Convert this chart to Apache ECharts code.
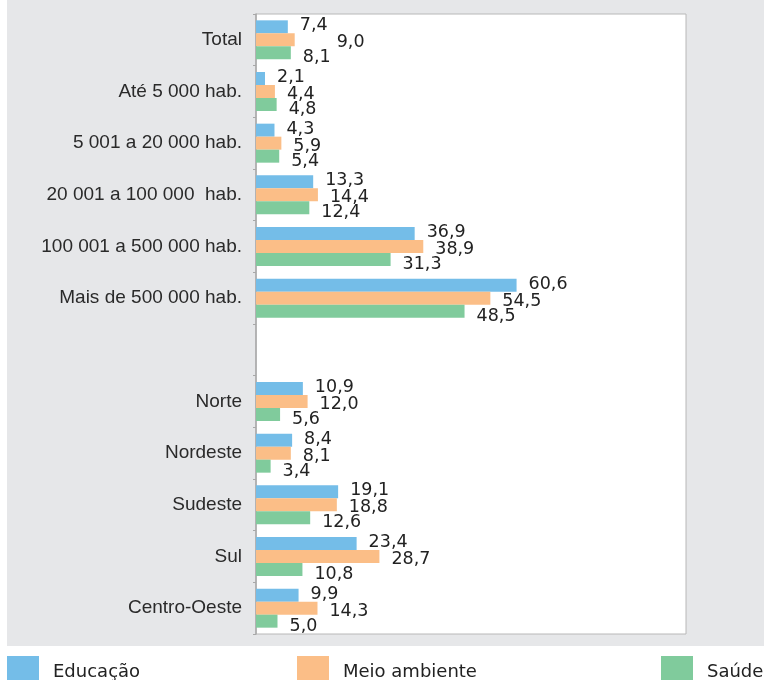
<!DOCTYPE html>
<html>
<head>
<meta charset="utf-8">
<script src="https://cdn.jsdelivr.net/npm/echarts@6/dist/echarts.min.js"></script>
<style>
html,body{margin:0;padding:0;background:#fff;}
#chart{width:764px;height:680px;}
</style>
</head>
<body>
<div id="chart"></div>
<script>
const categories = ['Total','Até 5 000 hab.','5 001 a 20 000 hab.','20 001 a 100 000  hab.','100 001 a 500 000 hab.','Mais de 500 000 hab.','','Norte','Nordeste','Sudeste','Sul','Centro-Oeste'];
const educacao = [7.4, 2.1, 4.3, 13.3, 36.9, 60.6, null, 10.9, 8.4, 19.1, 23.4, 9.9];
const meioAmbiente = [9.0, 4.4, 5.9, 14.4, 38.9, 54.5, null, 12.0, 8.1, 18.8, 28.7, 14.3];
const saude = [8.1, 4.8, 5.4, 12.4, 31.3, 48.5, null, 5.6, 3.4, 12.6, 10.8, 5.0];
const seriesNames = ['Educação', 'Meio ambiente', 'Saúde'];

const colors = ['#74BDE8', '#FBBE87', '#80CB9C'];
const labelDy = [-1, 3, 5];
const fmt = p => p.value == null ? '' : p.value.toFixed(1).replace('.', ',');

function makeSeries(name, values, idx) {
  const data = values.map((v, i) => {
    if (idx === 1 && i === 0) {
      return { value: v, label: { offset: [30, labelDy[idx]] } };
    }
    return v;
  });
  return {
    name: name,
    type: 'bar',
    data: data,
    barWidth: 13,
    barGap: '0%',
    itemStyle: { color: colors[idx] },
    label: {
      show: true,
      position: 'right',
      distance: 12,
      offset: [0, labelDy[idx]],
      formatter: fmt,
      fontFamily: 'DejaVu Sans',
      fontSize: 17.5,
      color: '#222'
    },
    emphasis: { disabled: true }
  };
}

const chart = echarts.init(document.getElementById('chart'), null, { renderer: 'canvas' });
const legendBase = {
  top: 656,
  padding: 0,
  itemWidth: 32,
  itemHeight: 32,
  icon: 'rect',
  selectedMode: false,
  textStyle: { fontFamily: 'DejaVu Sans', fontSize: 18, color: '#222', padding: [0, 0, 0, 9] }
};
chart.setOption({
  animation: false,
  graphic: [{
    type: 'rect',
    z: -10,
    shape: { x: 7, y: 0, width: 757, height: 646 },
    style: { fill: '#E6E7E9' }
  }],
  legend: [
    Object.assign({ left: 7, data: [seriesNames[0]] }, legendBase),
    Object.assign({ left: 297, data: [seriesNames[1]] }, legendBase),
    Object.assign({ left: 661, data: [seriesNames[2]] }, legendBase)
  ],
  grid: {
    left: 256, right: 78, top: 14, bottom: 46,
    show: true, backgroundColor: '#ffffff', borderColor: '#B8B8B8', borderWidth: 1,
    containLabel: false
  },
  xAxis: {
    type: 'value', min: 0, max: 100,
    show: false
  },
  yAxis: {
    type: 'category',
    inverse: true,
    data: categories,
    axisLine: { show: true, lineStyle: { color: '#A8A8A8', width: 1.5 } },
    axisTick: { show: true, length: 3, lineStyle: { color: '#A8A8A8' } },
    axisLabel: { margin: 14, fontFamily: 'Liberation Sans', fontSize: 19, color: '#2a2a2a' },
    splitLine: { show: false }
  },
  series: [
    makeSeries(seriesNames[0], educacao, 0),
    makeSeries(seriesNames[1], meioAmbiente, 1),
    makeSeries(seriesNames[2], saude, 2)
  ]
});
</script>
</body>
</html>
